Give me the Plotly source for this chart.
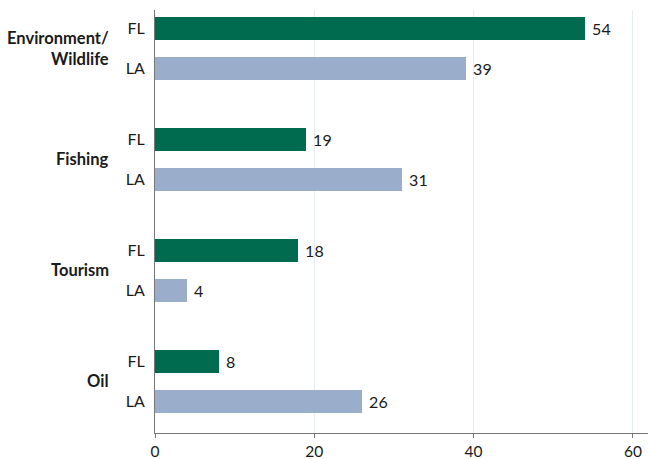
import plotly.graph_objects as go

groups = ["Environment/<br>Wildlife", "Fishing", "Tourism", "Oil"]
states = ["FL", "LA"]
fl_values = [54, 19, 18, 8]
la_values = [39, 31, 4, 26]
x_ticks = [0, 20, 40, 60]

FL_COLOR = "#006b4f"
LA_COLOR = "#9aadcb"
GROUP_PITCH = 2.775

fl_pos = [i * GROUP_PITCH for i in range(len(groups))]
la_pos = [p + 1 for p in fl_pos]

font = dict(family="Lato", size=16, color="#1a1a1a")

fig = go.Figure()
fig.add_trace(go.Bar(
    x=fl_values, y=fl_pos, orientation="h", width=0.575,
    marker=dict(color=FL_COLOR, line=dict(width=0)),
    text=["\u00a0" + str(v) for v in fl_values], textposition="outside",
    textfont=font, cliponaxis=False, showlegend=False, hoverinfo="skip",
))
fig.add_trace(go.Bar(
    x=la_values, y=la_pos, orientation="h", width=0.575,
    marker=dict(color=LA_COLOR, line=dict(width=0)),
    text=["\u00a0" + str(v) for v in la_values], textposition="outside",
    textfont=font, cliponaxis=False, showlegend=False, hoverinfo="skip",
))

tickvals = []
ticktext = []
for f, l in zip(fl_pos, la_pos):
    tickvals += [f, l]
    ticktext += states

for g, f in zip(groups, fl_pos):
    fig.add_annotation(
        x=0, xref="paper", xshift=-44, xanchor="right",
        y=f + 0.5, yref="y", yanchor="middle",
        text="<b>" + g + "</b>", showarrow=False, align="right",
        font=dict(family="Lato", size=16.5, color="#1a1a1a"),
    )

fig.update_layout(
    width=648, height=459,
    margin=dict(l=155, r=0, t=10, b=26),
    plot_bgcolor="white", paper_bgcolor="white",
    font=font,
    bargap=0,
    xaxis=dict(
        range=[0, 61.9], tickvals=x_ticks, ticks="outside", ticklen=4,
        tickcolor="#777777", showline=True, linecolor="#777777", linewidth=1,
        showgrid=True, gridcolor="#e6edf1", gridwidth=1, zeroline=False,
        tickfont=dict(family="Lato", size=15.5, color="#1a1a1a"), automargin=False,
    ),
    yaxis=dict(
        range=[10.125, -0.45], tickvals=tickvals, ticktext=ticktext,
        showline=True, linecolor="#777777", linewidth=1, ticks="",
        showgrid=False, zeroline=False, ticklabelstandoff=6,
        tickfont=font, automargin=False,
    ),
)

fig.write_html("out.html", post_script="document.body.style.margin='0';",
               config={"displayModeBar": False})
